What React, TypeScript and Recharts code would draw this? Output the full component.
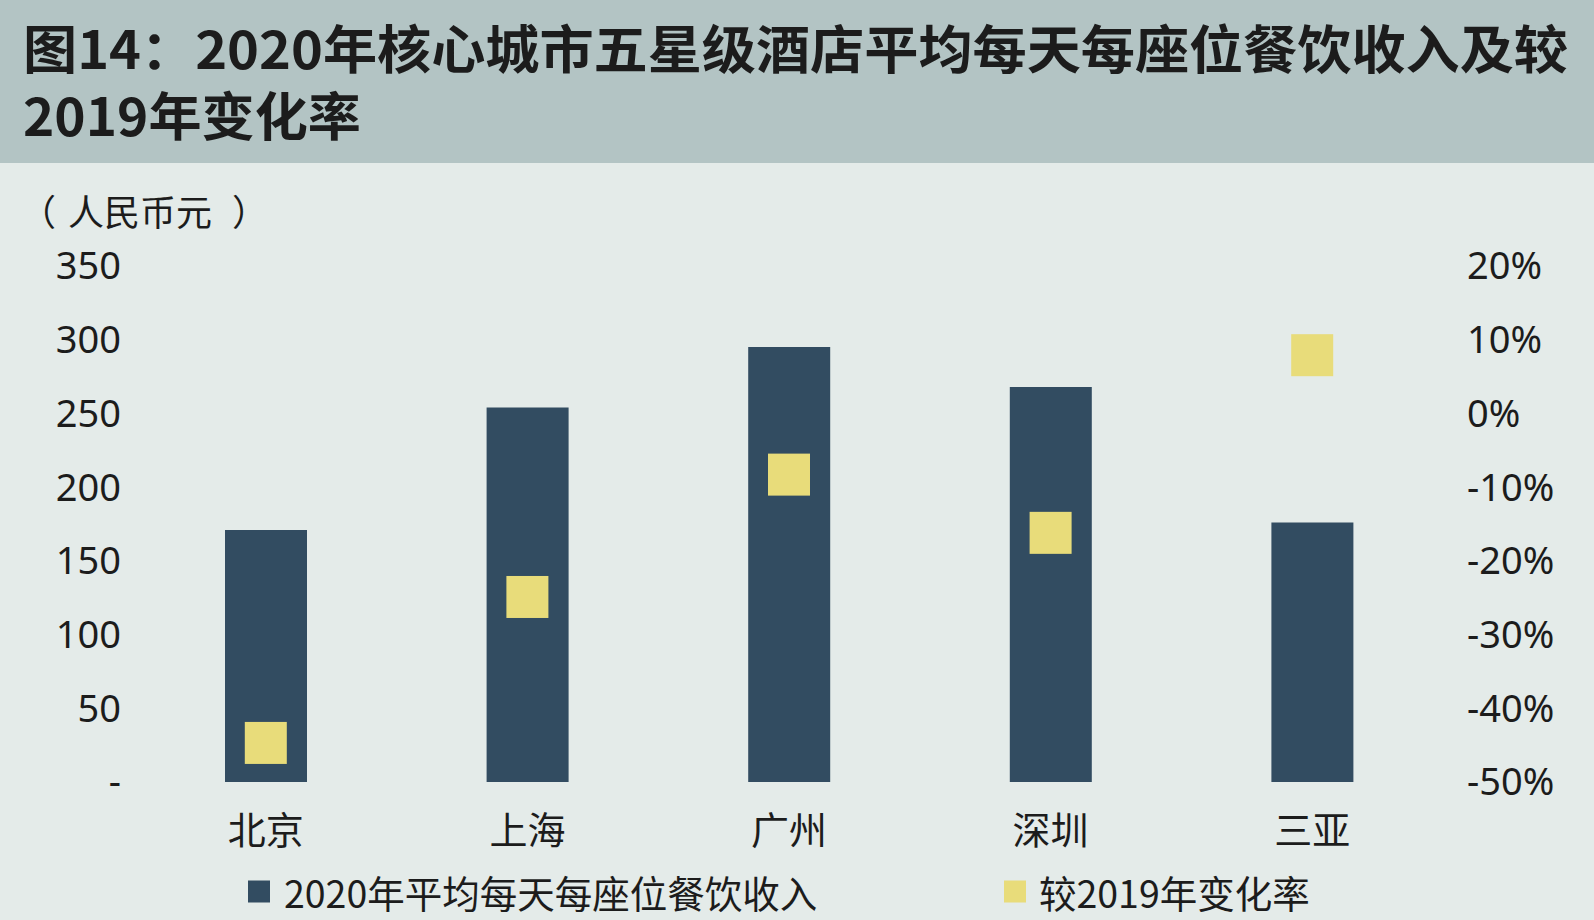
import React from 'react';
import { ComposedChart, Bar, Scatter, XAxis, YAxis } from 'recharts';

const categories = ['北京', '上海', '广州', '深圳', '三亚'];
const revenue2020 = [171, 254, 295, 268, 176];
const changeVs2019 = [-0.447, -0.249, -0.083, -0.162, 0.079];
const leftTicks = [0, 50, 100, 150, 200, 250, 300, 350];
const rightTicks = [-0.5, -0.4, -0.3, -0.2, -0.1, 0, 0.1, 0.2];
const seriesNames = ['2020年平均每天每座位餐饮收入', '较2019年变化率'];
const titleLines = ['图14：2020年核心城市五星级酒店平均每天每座位餐饮收入及较', '2019年变化率'];
const unitParts = ['（', '人民币元', '）'];

const BAR_COLOR = '#324c61';
const SQ_COLOR = '#e8dc7a';
const TEXT = '#1c1c1c';
const FONT = "'Noto Sans', 'Noto Sans CJK SC', sans-serif";
const CJK = "'Noto Sans CJK SC', sans-serif";

const data = categories.map((c, i) => ({ city: c, revenue: revenue2020[i], change: changeVs2019[i] }));

const Square = (props: any) => {
  const { cx, cy } = props;
  if (cx == null || cy == null) return null;
  const s = 42;
  return <rect x={cx - s / 2} y={cy - s / 2} width={s} height={s} fill={SQ_COLOR} />;
};

const tickStyle = { fontSize: 38, fill: TEXT, fontFamily: FONT };

export default function App() {
  return (
    <div style={{ position: 'absolute', left: 0, top: 0, width: 1594, height: 920, background: '#e4ebe9', overflow: 'hidden', fontFamily: FONT }}>
      <div style={{ position: 'absolute', left: 0, top: 0 }}>
        <ComposedChart width={1594} height={920} data={data} margin={{ top: 266, right: 0, bottom: 78, left: 0 }} barCategoryGap="34%">
          <XAxis dataKey="city" xAxisId="x" axisLine={false} tickLine={false} tickSize={0} tickMargin={35} height={60} tick={tickStyle} interval={0} />
          <YAxis yAxisId="left" orientation="left" domain={[0, 350]} ticks={leftTicks} width={135} axisLine={false} tickLine={false} tickSize={0} tickMargin={14} tick={tickStyle} tickFormatter={(v: number) => (v === 0 ? '-' : String(v))} allowDataOverflow />
          <YAxis yAxisId="right" orientation="right" domain={[-0.5, 0.2]} ticks={rightTicks} width={151} axisLine={false} tickLine={false} tickSize={0} tickMargin={24} tick={{ ...tickStyle, textAnchor: 'start' }} tickFormatter={(v: number) => `${Math.round(v * 100)}%`} allowDataOverflow />
          <Bar xAxisId="x" yAxisId="left" dataKey="revenue" fill={BAR_COLOR} barSize={82} isAnimationActive={false} />
          <Scatter xAxisId="x" yAxisId="right" dataKey="change" fill={SQ_COLOR} shape={Square} isAnimationActive={false} />
        </ComposedChart>
      </div>
      <div style={{ position: 'absolute', left: 0, top: 0, width: 1594, height: 163, background: '#b3c4c4' }}>
        <svg width={1594} height={163}>
          <text x={23} y={69} fontSize={52} fontWeight={700} fill={TEXT} fontFamily={CJK} textLength={1545} lengthAdjust="spacingAndGlyphs">{titleLines[0]}</text>
          <text x={23} y={136} fontSize={52} fontWeight={700} fill={TEXT} fontFamily={CJK} textLength={338} lengthAdjust="spacingAndGlyphs">{titleLines[1]}</text>
        </svg>
      </div>
      <svg style={{ position: 'absolute', left: 0, top: 163 }} width={400} height={80}>
        <text y={47} fontSize={36} fill={TEXT} dominantBaseline="central" fontFamily={CJK}>
          <tspan x={20}>{unitParts[0]}</tspan>
          <tspan x={68}>{unitParts[1]}</tspan>
          <tspan x={232}>{unitParts[2]}</tspan>
        </text>
      </svg>
      <svg style={{ position: 'absolute', left: 0, top: 860 }} width={1594} height={60}>
        <rect x={248} y={20.5} width={22} height={22} fill={BAR_COLOR} />
        <text x={284} y={31.5} fontSize={37.5} fill={TEXT} dominantBaseline="central" fontFamily={CJK}>{seriesNames[0]}</text>
        <rect x={1004} y={20.5} width={22} height={22} fill={SQ_COLOR} />
        <text x={1039} y={31.5} fontSize={37.5} fill={TEXT} dominantBaseline="central" fontFamily={CJK}>{seriesNames[1]}</text>
      </svg>
    </div>
  );
}
